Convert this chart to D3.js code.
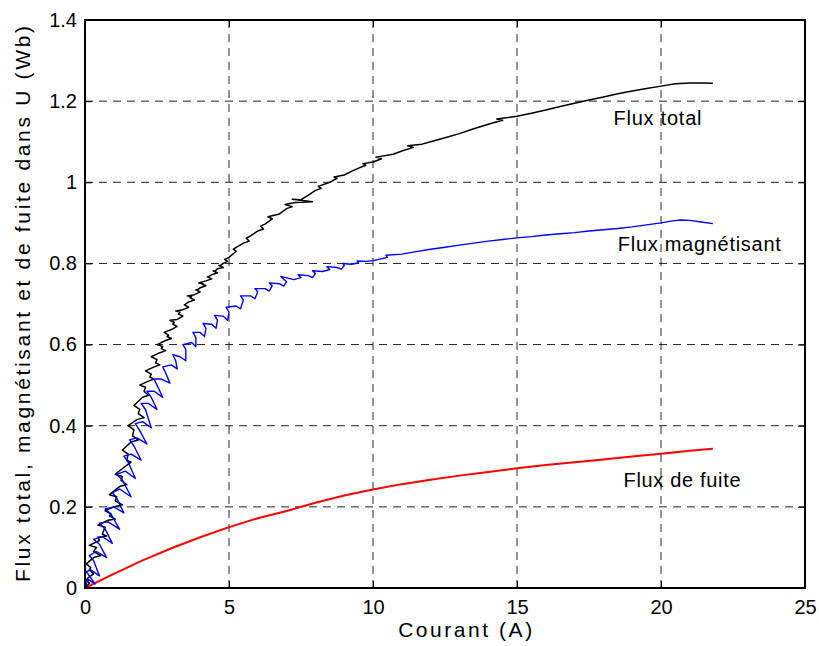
<!DOCTYPE html>
<html>
<head>
<meta charset="utf-8">
<script src="https://cdn.jsdelivr.net/npm/d3@7/dist/d3.min.js"></script>
<style>
  html, body { margin: 0; padding: 0; background: #fff; }
  svg { display: block; font-family: 'Liberation Sans', Arial, sans-serif; }
</style>
</head>
<body>
<div id="chart"></div>
<script>
// ---- data (I in A, flux in Wb) ----
const xTicks = [0, 5, 10, 15, 20, 25];
const yTicks = [0, 0.2, 0.4, 0.6, 0.8, 1, 1.2, 1.4];

// measured total flux: noisy on the current reading (horizontal spikes)
const fluxTotal = [
  [0,0],[0.15,0.012],[0.05,0.02],[0.1,0.025],[0.3,0.035],[0.15,0.045],[0.2,0.05],[0.05,0.06],
  [0.3,0.075],[0.55,0.08],[0.3,0.09],[0.4,0.1],[0.15,0.105],[0.5,0.117],[0.45,0.125],[0.75,0.128],
  [0.6,0.133],[0.7,0.15],[0.45,0.155],[0.8,0.167],[1.05,0.17],[0.85,0.178],[0.9,0.183],[0.7,0.19],
  [1.0,0.2],[1.3,0.205],[1.05,0.215],[1.1,0.225],[0.85,0.23],[1.2,0.25],[1.45,0.255],[1.25,0.265],
  [1.3,0.275],[1.05,0.28],[1.4,0.3],[1.6,0.31],[1.45,0.315],[1.5,0.33],[1.3,0.34],[1.6,0.36],
  [1.85,0.365],[1.65,0.375],[1.7,0.39],[1.5,0.4],[1.8,0.415],[2.05,0.42],[1.85,0.43],[1.9,0.44],
  [1.7,0.45],[2.0,0.47],[2.2,0.475],[2.05,0.485],[2.1,0.495],[1.9,0.5],[2.2,0.51],[2.4,0.515],
  [2.25,0.52],[2.3,0.527],[2.1,0.535],[2.4,0.545],[2.6,0.55],[2.45,0.555],[2.5,0.563],[2.3,0.57],
  [2.6,0.58],[2.8,0.585],[2.65,0.59],[2.7,0.595],[2.5,0.6],[2.8,0.61],[3.0,0.615],[2.85,0.62],
  [2.9,0.623],[2.75,0.63],[3.0,0.637],[3.2,0.645],[3.05,0.65],[3.1,0.655],[2.95,0.66],[3.2,0.662],
  [3.4,0.67],[3.25,0.675],[3.3,0.68],[3.15,0.683],[3.4,0.686],[3.6,0.692],[3.45,0.698],[3.5,0.7],
  [3.6,0.705],[3.8,0.71],[3.65,0.715],[3.7,0.718],[3.55,0.72],[3.8,0.723],[4.0,0.73],[3.85,0.735],
  [3.9,0.735],[4.0,0.74],[4.2,0.745],[4.05,0.75],[4.1,0.75],[3.95,0.752],[4.2,0.757],[4.4,0.762],
  [4.25,0.767],[4.3,0.768],[4.4,0.772],[4.6,0.777],[4.45,0.782],[4.5,0.78],[4.6,0.787],[4.8,0.79],
  [4.65,0.795],[4.7,0.795],[4.8,0.8],[4.95,0.805],[4.85,0.81],[5.0,0.815],
  [5.25,0.83],[5.15,0.835],[5.5,0.85],[5.7,0.855],[5.6,0.862],[5.75,0.868],[6.0,0.88],[6.2,0.885],
  [6.1,0.892],[6.25,0.897],[6.5,0.91],[6.35,0.915],[6.75,0.922],[7.0,0.935],[7.2,0.94],[6.95,0.945],
  [7.3,0.95],[7.9,0.952],[7.2,0.958],[7.5,0.957],[7.75,0.968],[8.0,0.98],[8.2,0.985],[8.1,0.99],
  [8.5,1.0],[8.75,1.01],[8.65,1.013],[9.0,1.018],[9.25,1.027],[9.5,1.035],[9.75,1.042],[9.65,1.046],
  [10.0,1.05],[10.3,1.058],[10.1,1.062],[10.7,1.069],[11.0,1.077],[11.4,1.086],[11.2,1.09],[11.7,1.094],
  [12.0,1.1],[12.5,1.11],[13.0,1.12],[13.5,1.132],[14.0,1.143],[14.5,1.153],[14.3,1.156],[15.0,1.163],
  [15.5,1.17],[16.0,1.178],[16.5,1.187],[17.0,1.195],[17.5,1.203],[18.0,1.21],[18.5,1.218],[19.0,1.225],
  [19.5,1.231],[20.0,1.237],[20.5,1.243],[21.0,1.245],[21.4,1.245],[21.8,1.244]
];

// magnetising flux: diagonal spikes
const fluxMagnetisant = [
  [0,0],[0.1,0.022],[0.35,0.01],[0.05,0.04],[0.2,0.045],[0.5,0.03],[0.3,0.067],[0.15,0.08],
  [0.4,0.09],[0.75,0.075],[0.5,0.108],[0.3,0.12],[0.6,0.127],[0.95,0.11],[0.7,0.145],[0.5,0.16],
  [0.8,0.163],[1.2,0.145],[0.9,0.182],[0.7,0.195],[1.0,0.2],[1.35,0.185],[1.1,0.222],[0.95,0.235],
  [1.2,0.244],[1.6,0.225],[1.3,0.266],[1.1,0.28],[1.4,0.288],[1.75,0.27],[1.5,0.31],[1.35,0.325],
  [1.6,0.33],[1.95,0.315],[1.7,0.35],[1.55,0.365],[1.8,0.37],[2.15,0.355],[1.9,0.388],[1.75,0.405],
  [2.0,0.41],[2.3,0.395],[2.1,0.44],[1.95,0.455],[2.2,0.455],[2.5,0.44],[2.3,0.47],[2.15,0.485],
  [2.4,0.485],[2.7,0.47],[2.5,0.5],[2.4,0.515],[2.65,0.515],[2.95,0.505],[2.8,0.53],[2.7,0.545],
  [3.0,0.55],[3.2,0.54],[3.15,0.56],[3.05,0.575],[3.3,0.57],[3.5,0.56],[3.5,0.588],[3.4,0.6],
  [3.7,0.605],[3.85,0.595],[3.85,0.617],[3.75,0.63],[4.0,0.63],[4.15,0.62],[4.2,0.64],[4.1,0.652],
  [4.4,0.65],[4.55,0.64],[4.6,0.66],[4.5,0.672],[4.8,0.67],[4.95,0.66],[5.0,0.68],[4.9,0.692],
  [5.25,0.695],[5.4,0.688],[5.5,0.71],[5.4,0.72],[5.75,0.72],[5.9,0.713],[6.0,0.73],[5.9,0.738],
  [6.25,0.738],[6.4,0.732],[6.5,0.745],[6.4,0.752],[6.75,0.75],[6.9,0.744],[7.0,0.755],[6.8,0.768],
  [7.25,0.76],[7.5,0.765],[7.4,0.772],[7.75,0.77],[7.9,0.765],[8.0,0.775],[7.9,0.782],[8.25,0.78],
  [8.5,0.785],[8.4,0.792],[8.75,0.79],[8.9,0.786],[9.0,0.795],[8.95,0.8],[9.25,0.798],[9.5,0.801],
  [9.45,0.806],[9.75,0.805],[10.0,0.807],[10.5,0.815],[10.45,0.82],[11.0,0.823],[11.5,0.829],[12.0,0.835],
  [12.5,0.84],[13.0,0.845],[13.5,0.85],[14.0,0.855],[14.5,0.859],[15.0,0.863],[15.5,0.866],[16.0,0.87],
  [16.5,0.873],[17.0,0.876],[17.5,0.88],[18.0,0.883],[18.5,0.886],[19.0,0.89],[19.5,0.895],[20.0,0.9],
  [20.4,0.905],[20.7,0.907],[21.0,0.906],[21.4,0.902],[21.8,0.898]
];

const fluxFuite = [
  [0,0],[1,0.035],[2,0.068],[3,0.098],[4,0.125],[5,0.15],[6,0.172],[7,0.19],
  [8,0.21],[9,0.228],[10,0.243],[11,0.256],[12,0.267],[13,0.277],[14,0.286],[15,0.295],
  [16,0.303],[17,0.31],[18,0.317],[19,0.324],[20,0.331],[21,0.338],[21.8,0.343]
];

const seriesLabels = [
  { text: 'Flux total',       x: 18.35, y: 1.14,  len: 88 },
  { text: 'Flux magnétisant', x: 18.5,  y: 0.83,  len: 163 },
  { text: 'Flux de fuite',    x: 18.7,  y: 0.25,  len: 117 }
];

// ---- layout ----
const W = 819, H = 646;
const m = { top: 20, right: 14, bottom: 58, left: 85 };
const w = W - m.left - m.right;
const h = H - m.top - m.bottom;

const svg = d3.select('#chart').append('svg').attr('width', W).attr('height', H);
const g = svg.append('g').attr('transform', `translate(${m.left},${m.top})`);

const x = d3.scaleLinear().domain([0, 25]).range([0, w]);
const y = d3.scaleLinear().domain([0, 1.4]).range([h, 0]);

// grid (dashed, MATLAB style)
g.append('g').selectAll('line').data(xTicks.slice(1, -1)).join('line')
  .attr('x1', d => x(d)).attr('x2', d => x(d)).attr('y1', 0).attr('y2', h)
  .attr('stroke', '#222').attr('stroke-width', 1).attr('stroke-dasharray', '8,6');
g.append('g').selectAll('line').data(yTicks.slice(1, -1)).join('line')
  .attr('y1', d => y(d)).attr('y2', d => y(d)).attr('x1', 0).attr('x2', w)
  .attr('stroke', '#222').attr('stroke-width', 1).attr('stroke-dasharray', '8,6');

// curves
const line = d3.line().x(d => x(d[0])).y(d => y(d[1]));
g.append('path').datum(fluxFuite).attr('d', line)
  .attr('fill', 'none').attr('stroke', '#ff0000').attr('stroke-width', 2);
g.append('path').datum(fluxTotal).attr('d', line)
  .attr('fill', 'none').attr('stroke', '#000').attr('stroke-width', 1.5)
  .attr('stroke-linejoin', 'round');
g.append('path').datum(fluxMagnetisant).attr('d', line)
  .attr('fill', 'none').attr('stroke', '#0000ff').attr('stroke-width', 1.4)
  .attr('stroke-linejoin', 'round');

// axes: ticks inside, full box
const tickLen = 7;
g.append('g').attr('transform', `translate(0,${h})`)
  .call(d3.axisBottom(x).tickValues(xTicks).tickFormat(d3.format('~g'))
    .tickSizeInner(-tickLen).tickSizeOuter(0).tickPadding(12));
g.append('g')
  .call(d3.axisLeft(y).tickValues(yTicks).tickFormat(d3.format('~g'))
    .tickSizeInner(-tickLen).tickSizeOuter(0).tickPadding(8));
g.append('g')
  .call(d3.axisTop(x).tickValues(xTicks).tickFormat('').tickSizeInner(-tickLen).tickSizeOuter(0));
g.append('g').attr('transform', `translate(${w},0)`)
  .call(d3.axisRight(y).tickValues(yTicks).tickFormat('').tickSizeInner(-tickLen).tickSizeOuter(0));

g.selectAll('.domain').remove();
g.selectAll('.tick line').attr('stroke', '#000').attr('stroke-width', 1);
g.selectAll('.tick text').attr('fill', '#000')
  .style('font-size', '20px').style('font-family', "'Liberation Sans', Arial, sans-serif");

g.append('rect').attr('x', 0).attr('y', 0).attr('width', w).attr('height', h)
  .attr('fill', 'none').attr('stroke', '#000').attr('stroke-width', 2);

// series labels
g.selectAll('.slabel').data(seriesLabels).join('text')
  .attr('class', 'slabel')
  .attr('x', d => x(d.x)).attr('y', d => y(d.y))
  .attr('textLength', d => d.len).attr('lengthAdjust', 'spacing')
  .style('font-size', '20px').attr('fill', '#000')
  .text(d => d.text);

// axis titles
svg.append('text')
  .attr('x', m.left + x(13.2)).attr('y', 637)
  .attr('text-anchor', 'middle')
  .attr('textLength', 134).attr('lengthAdjust', 'spacing')
  .style('font-size', '21px').attr('fill', '#000')
  .text('Courant (A)');

svg.append('text')
  .attr('transform', `translate(30,${m.top + h / 2}) rotate(-90)`)
  .attr('text-anchor', 'middle')
  .attr('textLength', 556).attr('lengthAdjust', 'spacing')
  .style('font-size', '21px').attr('fill', '#000')
  .text('Flux total, magnétisant et de fuite dans U (Wb)');
</script>
</body>
</html>
